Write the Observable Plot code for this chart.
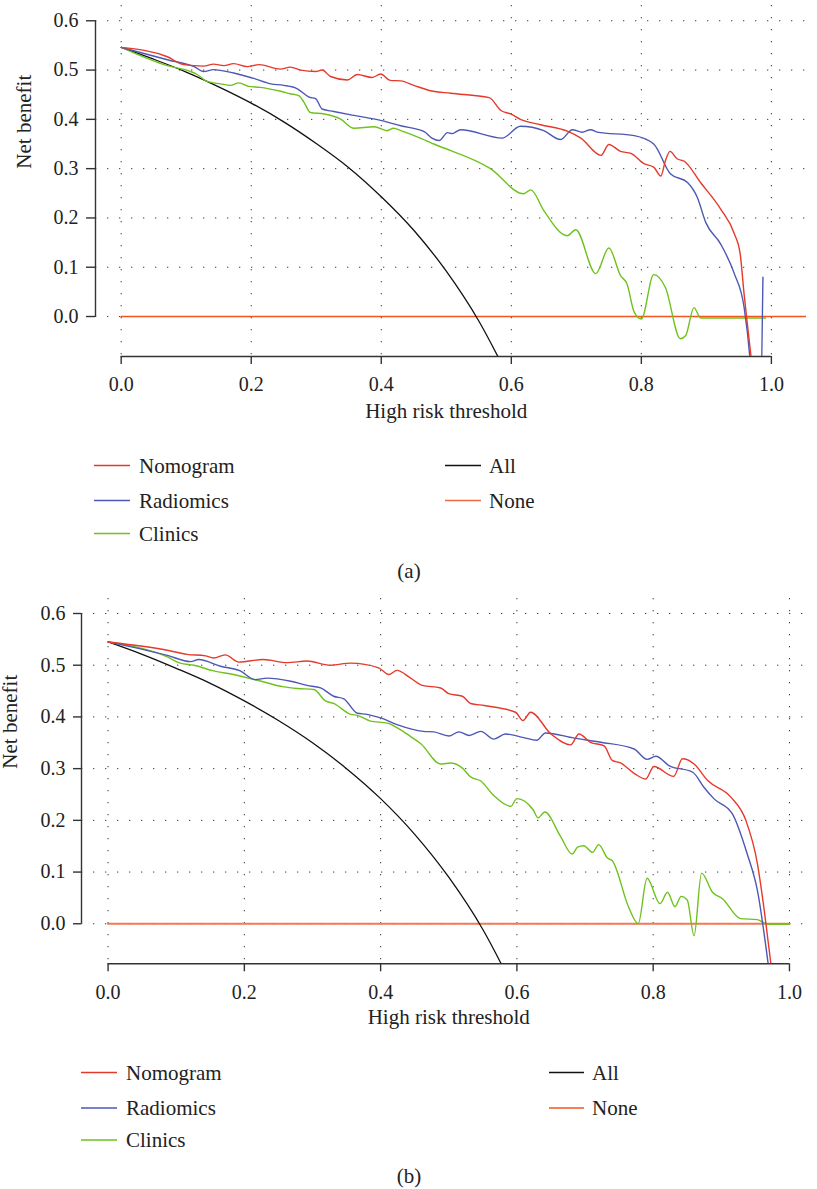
<!DOCTYPE html>
<html>
<head>
<meta charset="utf-8">
<script src="https://cdn.jsdelivr.net/npm/d3@7"></script>
<script src="https://cdn.jsdelivr.net/npm/@observablehq/plot@0.6"></script>
<style>
  html, body { margin: 0; padding: 0; background: #fff; }
  #root { position: relative; width: 817px; height: 1189px; font-family: "Liberation Serif", "DejaVu Serif", serif; color: #222; }
  .panel { position: absolute; left: 0; }
  .leg { position: absolute; left: 0; top: 0; }
  .cap { position: absolute; font-size: 21px; transform: translate(-50%, -50%); }
</style>
</head>
<body>
<div id="root"></div>
<script>
// ---------- shared tick values ----------
const xTicks = [0, 0.2, 0.4, 0.6, 0.8, 1.0];
const yTicks = [0, 0.1, 0.2, 0.3, 0.4, 0.5, 0.6];
const seriesNames = ["Nomogram", "Radiomics", "Clinics", "All", "None"];
const seriesColors = ["#e5392b", "#4c58b3", "#6fc21c", "#111111", "#f2551f"];

// ---------- panel (a) ----------
const nomogramA = [[0,0.546],[0.071,0.527],[0.096,0.511],[0.127,0.508],[0.142,0.512],[0.158,0.509],[0.173,0.513],[0.194,0.507],[0.212,0.511],[0.245,0.502],[0.26,0.506],[0.276,0.5],[0.299,0.497],[0.309,0.5],[0.322,0.487],[0.348,0.48],[0.363,0.491],[0.386,0.485],[0.399,0.492],[0.414,0.479],[0.43,0.478],[0.45,0.469],[0.476,0.458],[0.507,0.453],[0.566,0.444],[0.584,0.418],[0.599,0.411],[0.614,0.4],[0.645,0.389],[0.686,0.376],[0.707,0.362],[0.738,0.327],[0.75,0.349],[0.768,0.335],[0.784,0.331],[0.804,0.31],[0.819,0.303],[0.83,0.285],[0.837,0.316],[0.844,0.335],[0.855,0.32],[0.866,0.315],[0.891,0.272],[0.922,0.218],[0.943,0.168],[0.952,0.127],[0.958,0.046],[0.963,-0.015],[0.969,-0.085]];
const radiomicsA = [[0,0.546],[0.071,0.521],[0.112,0.507],[0.127,0.497],[0.142,0.501],[0.173,0.494],[0.204,0.483],[0.23,0.472],[0.25,0.469],[0.271,0.462],[0.289,0.445],[0.299,0.442],[0.309,0.421],[0.327,0.416],[0.358,0.408],[0.399,0.398],[0.43,0.387],[0.466,0.375],[0.478,0.362],[0.489,0.357],[0.502,0.373],[0.509,0.371],[0.522,0.379],[0.586,0.362],[0.614,0.386],[0.65,0.377],[0.676,0.359],[0.694,0.379],[0.709,0.374],[0.722,0.379],[0.732,0.374],[0.789,0.367],[0.819,0.35],[0.845,0.289],[0.871,0.272],[0.886,0.242],[0.899,0.191],[0.922,0.147],[0.943,0.087],[0.958,0.019],[0.967,-0.085],[0.975,-0.25],[0.982,-0.25],[0.987,0.08]];
const clinicsA = [[0,0.546],[0.071,0.509],[0.107,0.497],[0.117,0.491],[0.132,0.477],[0.153,0.472],[0.168,0.469],[0.181,0.474],[0.196,0.467],[0.214,0.465],[0.245,0.457],[0.26,0.452],[0.273,0.448],[0.281,0.435],[0.291,0.414],[0.312,0.411],[0.337,0.401],[0.358,0.382],[0.389,0.385],[0.409,0.377],[0.419,0.382],[0.43,0.377],[0.46,0.362],[0.481,0.35],[0.568,0.3],[0.619,0.249],[0.63,0.257],[0.65,0.215],[0.686,0.164],[0.699,0.176],[0.73,0.087],[0.75,0.139],[0.768,0.083],[0.778,0.066],[0.789,0.009],[0.8,-0.005],[0.819,0.085],[0.837,0.059],[0.86,-0.045],[0.868,-0.039],[0.881,0.018],[0.891,-0.003],[0.991,-0.003]];
const allA = [[0,0.546],[0.05,0.522],[0.1,0.496],[0.15,0.466],[0.2,0.433],[0.25,0.395],[0.3,0.351],[0.35,0.302],[0.4,0.243],[0.45,0.175],[0.5,0.092],[0.55,-0.009],[0.6,-0.135]];
const noneA = [[0,0],[1.054,0]];

// ---------- panel (b) ----------
const nomogramB = [[0,0.545],[0.087,0.529],[0.116,0.521],[0.143,0.518],[0.155,0.514],[0.172,0.52],[0.192,0.506],[0.228,0.511],[0.263,0.505],[0.292,0.508],[0.326,0.5],[0.356,0.504],[0.397,0.495],[0.412,0.482],[0.424,0.49],[0.444,0.475],[0.461,0.461],[0.488,0.456],[0.5,0.445],[0.52,0.44],[0.532,0.426],[0.552,0.422],[0.598,0.409],[0.609,0.393],[0.62,0.409],[0.65,0.367],[0.679,0.346],[0.691,0.367],[0.708,0.351],[0.728,0.344],[0.74,0.316],[0.752,0.311],[0.772,0.291],[0.789,0.28],[0.801,0.304],[0.83,0.285],[0.843,0.319],[0.86,0.309],[0.88,0.277],[0.914,0.245],[0.936,0.2],[0.953,0.116],[0.963,0.026],[0.973,-0.08]];
const radiomicsB = [[0,0.545],[0.087,0.519],[0.121,0.507],[0.133,0.511],[0.165,0.498],[0.194,0.489],[0.216,0.472],[0.233,0.475],[0.268,0.469],[0.292,0.461],[0.312,0.456],[0.331,0.44],[0.346,0.435],[0.366,0.407],[0.38,0.405],[0.4,0.398],[0.424,0.385],[0.463,0.372],[0.478,0.371],[0.5,0.363],[0.515,0.371],[0.53,0.364],[0.547,0.372],[0.566,0.357],[0.583,0.367],[0.61,0.36],[0.629,0.355],[0.642,0.369],[0.684,0.359],[0.723,0.351],[0.772,0.338],[0.791,0.318],[0.804,0.324],[0.823,0.306],[0.858,0.293],[0.875,0.263],[0.889,0.242],[0.916,0.213],[0.938,0.135],[0.953,0.064],[0.969,-0.08]];
const clinicsB = [[0,0.545],[0.087,0.516],[0.106,0.504],[0.126,0.5],[0.155,0.489],[0.184,0.482],[0.219,0.471],[0.258,0.458],[0.278,0.455],[0.302,0.453],[0.319,0.431],[0.331,0.426],[0.356,0.405],[0.366,0.403],[0.385,0.392],[0.41,0.388],[0.427,0.377],[0.444,0.362],[0.459,0.348],[0.488,0.309],[0.503,0.311],[0.52,0.301],[0.532,0.284],[0.547,0.276],[0.566,0.248],[0.591,0.227],[0.6,0.242],[0.624,0.22],[0.631,0.205],[0.641,0.216],[0.664,0.169],[0.681,0.135],[0.689,0.148],[0.698,0.151],[0.711,0.138],[0.72,0.153],[0.733,0.127],[0.74,0.122],[0.764,0.032],[0.778,0],[0.791,0.088],[0.81,0.039],[0.821,0.061],[0.832,0.033],[0.841,0.053],[0.85,0.046],[0.86,-0.023],[0.871,0.098],[0.887,0.061],[0.902,0.048],[0.928,0.01],[0.953,0.008],[0.968,-0.001],[0.999,-0.001]];
const allB = [[0,0.545],[0.05,0.521],[0.1,0.494],[0.15,0.465],[0.2,0.431],[0.25,0.393],[0.3,0.35],[0.35,0.3],[0.4,0.242],[0.45,0.173],[0.5,0.09],[0.55,-0.011],[0.6,-0.138]];
const noneB = [[0,0],[1.0,0]];

const FONT = "'Liberation Serif', 'DejaVu Serif', serif";
const fmt = d3.format(".1f");
const grid = {stroke: "#3a3a3a", strokeOpacity: 1, strokeWidth: 1, strokeDasharray: "1.3,10.7"};

function panel(cfg) {
  const line = (data, color, w) => Plot.line(data, {x: d => d[0], y: d => d[1], stroke: color, strokeWidth: w, curve: "monotone-x", clip: true});
  return Plot.plot({
    width: 817,
    height: cfg.height,
    marginLeft: cfg.ml, marginRight: cfg.mr, marginTop: cfg.mt, marginBottom: cfg.mb,
    x: {domain: cfg.xDomain},
    y: {domain: cfg.yDomain},
    style: {fontFamily: FONT, fontSize: "20px", color: "#222", background: "transparent", overflow: "visible"},
    marks: [
      Plot.gridX(xTicks, grid),
      Plot.gridY(yTicks, grid),
      Plot.axisY(yTicks, {tickSize: cfg.yTick, tickPadding: 8, tickFormat: fmt, label: null, fontSize: 20, fontFamily: FONT, strokeWidth: 1.4, stroke: "#333"}),
      Plot.axisX(xTicks, {tickSize: 8, tickPadding: cfg.xPad, tickFormat: fmt, label: null, fontSize: 20, fontFamily: FONT, strokeWidth: 1.4, stroke: "#333"}),
      Plot.ruleX([cfg.xDomain[0]], {y1: 0, y2: 0.6, stroke: "#333", strokeWidth: 1.4}),
      Plot.ruleY([cfg.yDomain[0]], {x1: 0, x2: 1, stroke: "#333", strokeWidth: 1.4}),
      line(cfg.none, cfg.noneColor, cfg.noneWidth),
      line(cfg.all, seriesColors[3], 1.3),
      line(cfg.cli, seriesColors[2], 1.4),
      line(cfg.rad, seriesColors[1], 1.4),
      line(cfg.nom, seriesColors[0], 1.4),
      Plot.text([0.3], {y: d => d, frameAnchor: "left", dx: cfg.yTitleDx, rotate: -90, text: () => "Net benefit", fontSize: 21, fontFamily: FONT, fill: "#222"}),
      Plot.text([0.5], {x: d => d, frameAnchor: "bottom", dy: cfg.xTitleDy, text: () => "High risk threshold", fontSize: 21, fontFamily: FONT, fill: "#222"})
    ]
  });
}

const root = document.getElementById("root");
const NS = "http://www.w3.org/2000/svg";

function place(svg, top) {
  const wrap = document.createElement("div");
  wrap.className = "panel";
  wrap.style.top = top + "px";
  wrap.appendChild(svg);
  root.appendChild(wrap);
}

// legend overlay drawn as one SVG layer (swatch + label)
const legSvg = document.createElementNS(NS, "svg");
legSvg.setAttribute("width", 817);
legSvg.setAttribute("height", 1189);
legSvg.setAttribute("class", "leg");
legSvg.style.position = "absolute";
legSvg.style.pointerEvents = "none";

function legend(items, lineX0, lineX1, textX) {
  for (const it of items) {
    const l = document.createElementNS(NS, "line");
    l.setAttribute("x1", lineX0); l.setAttribute("x2", lineX1);
    l.setAttribute("y1", it.y); l.setAttribute("y2", it.y);
    l.setAttribute("stroke", it.color);
    l.setAttribute("stroke-width", it.w || 1.6);
    legSvg.appendChild(l);
    const t = document.createElementNS(NS, "text");
    t.setAttribute("x", textX); t.setAttribute("y", it.y);
    t.setAttribute("dy", "0.34em");
    t.setAttribute("font-family", FONT);
    t.setAttribute("font-size", 21);
    t.setAttribute("fill", "#222");
    t.textContent = it.name;
    legSvg.appendChild(t);
  }
}

function caption(text, x, y) {
  const t = document.createElementNS(NS, "text");
  t.setAttribute("x", x); t.setAttribute("y", y);
  t.setAttribute("dy", "0.34em");
  t.setAttribute("text-anchor", "middle");
  t.setAttribute("font-family", FONT);
  t.setAttribute("font-size", 21);
  t.setAttribute("fill", "#222");
  t.textContent = text;
  legSvg.appendChild(t);
}

// Panel (a)
place(panel({
  height: 440, ml: 95, mr: 11, mt: 5, mb: 84,
  xDomain: [-0.0395, 1.054], yDomain: [-0.0811, 0.631],
  nom: nomogramA, rad: radiomicsA, cli: clinicsA, all: allA, none: noneA,
  noneColor: seriesColors[4], noneWidth: 1.4, yTick: 9, xPad: 12,
  yTitleDx: -71.5, xTitleDy: 61
}), 0);

legend([
  {name: seriesNames[0], color: seriesColors[0], y: 465.5},
  {name: seriesNames[1], color: seriesColors[1], y: 500.5},
  {name: seriesNames[2], color: seriesColors[2], y: 533.5}
], 94, 130, 139);
legend([
  {name: seriesNames[3], color: seriesColors[3], y: 465.5},
  {name: seriesNames[4], color: "#ee6a3e", y: 500.5}
], 445, 481, 489);
caption("(a)", 409, 571);

// Panel (b)
place(panel({
  height: 460, ml: 81, mr: 11, mt: 18, mb: 76.7,
  xDomain: [-0.039, 1.025], yDomain: [-0.0774, 0.629],
  nom: nomogramB, rad: radiomicsB, cli: clinicsB, all: allB, none: noneB,
  noneColor: "#f07a55", noneWidth: 2.2, yTick: 8, xPad: 13,
  yTitleDx: -71, xTitleDy: 60
}), 580);

legend([
  {name: seriesNames[0], color: seriesColors[0], y: 1072.5},
  {name: seriesNames[1], color: seriesColors[1], y: 1108},
  {name: seriesNames[2], color: seriesColors[2], y: 1140}
], 81, 117, 126);
legend([
  {name: seriesNames[3], color: seriesColors[3], y: 1072.5},
  {name: seriesNames[4], color: "#f2551f", y: 1108}
], 549, 584, 592);
caption("(b)", 409, 1176);

root.appendChild(legSvg);
</script>
</body>
</html>
